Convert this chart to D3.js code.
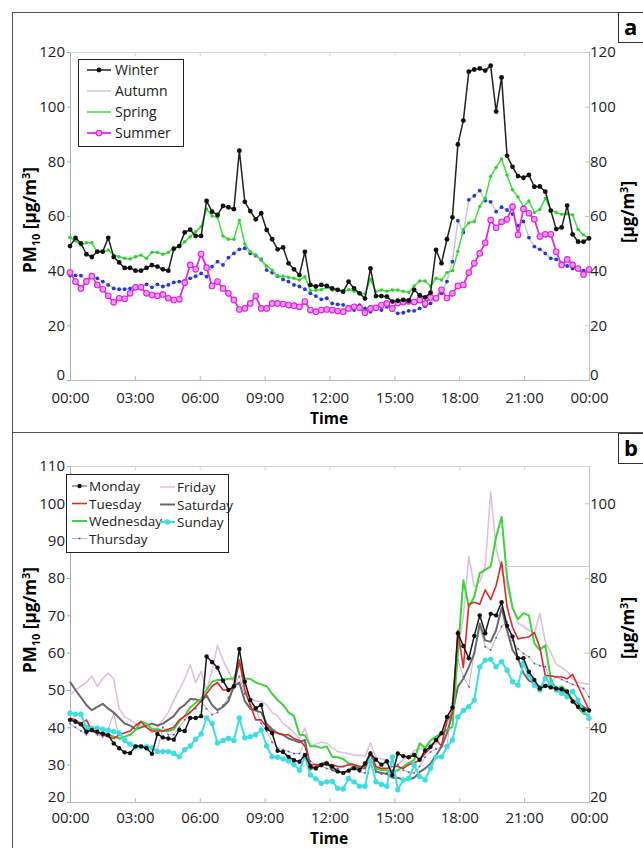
<!DOCTYPE html>
<html>
<head>
<meta charset="utf-8">
<script src="https://cdn.jsdelivr.net/npm/d3@7"></script>
<style>
    body { margin: 0; background: #fff; }
    text { font-family: "Open Sans", sans-serif; }
</style>
</head>
<body>
<div id="visualization"></div>
<script>
// hour ticks + labels (shared by both panels)
const hourTicks = [0, 3, 6, 9, 12, 15, 18, 21, 24]
const hourLabels = ["00:00", "03:00", "06:00", "09:00", "12:00", "15:00", "18:00", "21:00", "00:00"]

// panel a - seasons, 15 min values
const seasons = ["Winter", "Autumn", "Spring", "Summer"]
const winter = [49, 52, 50, 46, 45, 47, 47, 52, 45, 43, 41, 41, 40, 40, 41, 42, 41.5, 40.5, 40, 48, 49, 54, 55, 52.7, 52.7, 65.5, 61.6, 60.4, 63.7, 63.2, 62.5, 83.9, 65.2, 61.8, 58.8, 61, 54.9, 51.5, 47.8, 48.5, 42.7, 40.5, 38.4, 46.9, 34.8, 34.2, 34.8, 34.4, 33.5, 33, 32.3, 36, 33.5, 31.7, 29.8, 40.8, 30.7, 30.7, 30.5, 28.7, 29, 29.3, 29, 33, 31, 30.2, 32, 47.6, 42.7, 51.5, 59.5, 86.2, 94.9, 112.8, 113.6, 114, 113.2, 115, 98.2, 110.7, 82, 78, 74.6, 74, 75, 70.7, 70.8, 68.9, 62, 55.2, 55.8, 63.8, 53.3, 50.6, 50.6, 51.8]
const autumn = [38.2, 38.3, 38.2, 36.6, 37.8, 37.2, 36, 34.8, 33.5, 33.2, 33.2, 33.5, 34.4, 34.4, 35, 33.9, 35, 34.2, 34.8, 35.7, 36, 36.3, 37.2, 38, 39, 37.8, 41.5, 43.3, 42.1, 44.8, 46.3, 47.8, 48.2, 46.3, 45.5, 44.1, 40.2, 39.3, 38, 36.8, 36, 34.8, 34.2, 33.2, 31.7, 30.7, 29.5, 29.9, 28, 27.7, 27.5, 26.8, 25.6, 27.4, 26.2, 25, 26, 25.6, 26.8, 25.6, 24.4, 24.6, 25.3, 25.3, 26.2, 27, 28, 29.5, 31.7, 36, 43.3, 58.3, 54, 65.9, 67.4, 69.3, 65.6, 65.2, 61.6, 63.2, 62.2, 60.7, 56.5, 58, 52.1, 48.8, 47.8, 46.3, 44.5, 44.1, 42.7, 41.7, 40.8, 40.4, 40, 40.8]
const spring = [52.2, 50.9, 49.4, 50.2, 50.2, 46.7, 46.7, 47.6, 45.7, 45.1, 44.5, 44.3, 45.1, 45.7, 44.5, 46.7, 46.7, 46, 46.7, 48.5, 48.8, 50.6, 52.4, 54.3, 56.1, 62.6, 60, 59.5, 52.7, 51.5, 51.5, 58.5, 49.8, 46.9, 45.7, 43.9, 41.7, 40.2, 38, 38, 37.5, 37.2, 36.6, 37.8, 32.7, 32.8, 33, 33.9, 32.9, 33, 32.6, 33, 32.5, 31.7, 31.5, 36.8, 32.3, 32.9, 32.5, 32.9, 32.9, 32.5, 32, 34.4, 36.2, 36.2, 34.4, 37.2, 36.6, 39.3, 40, 47, 55, 57.5, 58, 63.5, 66.5, 74.5, 77.8, 80.9, 75, 69.6, 67, 63.4, 65.5, 61.3, 62.4, 66.4, 62.2, 61.3, 60.6, 60.8, 60.4, 55.1, 53.1, 51.8]
const summer = [39.3, 36, 33.5, 36, 38, 34.8, 33.2, 30.8, 28.4, 29.9, 29.7, 31.7, 33.9, 33.9, 31.7, 31.1, 30.8, 31.3, 29.9, 29.3, 29.5, 35.6, 42.1, 40.5, 46.1, 41.1, 34.4, 36, 33.5, 31.7, 29.3, 25.8, 26.2, 28, 30.7, 26.2, 26.2, 28, 28, 27.8, 27.4, 27.2, 26.8, 28.7, 25.6, 25, 25.6, 25.8, 25.6, 25.2, 25, 26.2, 26.8, 26.4, 24.6, 26.2, 26.4, 27.4, 28, 26.2, 28.2, 28.5, 28.8, 28.5, 29.3, 28, 30.2, 29.9, 33, 30, 31.7, 34.4, 34.8, 39.3, 42.7, 46.3, 50.2, 58.5, 55.7, 57.9, 58.8, 63.4, 53.1, 62.6, 61, 58.8, 52.5, 53.3, 53.3, 46.9, 42.1, 44.1, 42.1, 40.8, 38.6, 40.4]

// panel b - weekdays, 15 min values
const days = ["Monday", "Tuesday", "Wednesday", "Thursday", "Friday", "Saturday", "Sunday"]
const monday = [42, 41.5, 40.8, 38.8, 39.3, 38.8, 38.3, 37.9, 35.7, 34.4, 33.3, 33.1, 34.9, 34.9, 34.4, 32.9, 38.2, 37.3, 37, 36.7, 39.3, 39, 42.5, 42.5, 43, 59, 57.5, 56, 52.5, 50, 51, 61, 52.2, 47.3, 45.1, 46, 39.7, 38.4, 33.7, 33.4, 32.1, 31.2, 30.8, 32.6, 29.5, 29, 29.9, 30.3, 29.5, 28.2, 27.8, 28.4, 29, 28.6, 30.3, 33, 31.3, 30, 30.9, 27.2, 33, 32.3, 32, 32.6, 31.3, 33.8, 34.8, 36.6, 38.4, 42.8, 45.3, 65.2, 61.8, 58.5, 64.5, 70, 65.2, 70.4, 70, 73.5, 67.2, 64.3, 58.5, 58.5, 54.9, 52.7, 50.4, 51.1, 50.7, 50.4, 50.2, 49.6, 46.9, 45.5, 44.7, 44.5]
const tuesday = [42.5, 42, 41, 42, 39, 38.5, 38, 37.5, 37, 38, 38.5, 39, 40.5, 41.5, 40, 39, 39, 39, 39.5, 40, 42, 43, 44, 45.5, 47, 49, 51, 52, 50, 50, 50.5, 58, 50, 46, 42, 42, 40, 39, 38.5, 38, 38, 37, 36.5, 35, 30, 30, 30, 30, 30, 29.5, 29.5, 30, 30, 29.5, 29.5, 33, 29.5, 29, 29, 29.5, 29.5, 29, 30, 30.5, 31.2, 33, 34.5, 36.7, 35, 41.8, 43.7, 66, 56, 73, 73.5, 73, 76.8, 74.2, 78, 84.3, 72.3, 66.8, 63.7, 64, 64.2, 65.4, 61.4, 53.8, 53.8, 53.5, 53.5, 53, 54.2, 51, 47.8, 44.7]
const wednesday = [42.4, 41.5, 41, 40, 39, 38.5, 38.5, 38, 37.5, 37, 37.5, 38, 39.3, 41.6, 41, 39.5, 39.5, 39, 39, 39.5, 41.6, 43, 45.3, 46.5, 47.6, 50, 52.2, 52.7, 52.7, 53, 53.1, 57.1, 53, 53, 52, 51.5, 51, 49, 47.3, 46, 44, 43, 38, 37.9, 34.9, 34.9, 34.5, 34.9, 32.1, 32, 31.5, 30.3, 30, 29.4, 29.5, 33.4, 29, 28.5, 28.5, 28, 28.5, 29.5, 30.5, 31.2, 35.7, 34.5, 36.5, 37.5, 38.4, 39.3, 40.1, 60, 79.4, 72.3, 75, 81.3, 82.2, 83.1, 91, 96.4, 80, 72, 69, 70.6, 70, 62.5, 60.7, 62, 53.1, 50, 51, 49.6, 47.3, 45.1, 43.7, 43.3]
const thursday = [41, 40, 39, 38, 40, 38, 37.5, 39.5, 43.8, 37, 36, 35.5, 35, 35, 35, 34.5, 34, 40, 38, 38, 40, 42, 44, 45, 47, 45, 43.4, 44, 45.9, 48, 51, 53.6, 49, 46, 45, 41, 39, 36, 34.5, 34, 33.5, 33, 33, 36, 31, 30, 29.5, 29, 28.6, 29, 29.5, 30.3, 29, 28, 27.8, 32.6, 28, 27.5, 27.8, 28.5, 30, 28.5, 28, 27.8, 29.5, 32, 33.4, 34.2, 34.8, 35, 46.4, 58, 53.6, 50.9, 60, 67, 61.6, 60.7, 64, 67, 68.3, 63.3, 61, 59.8, 58.9, 57.1, 56.5, 56.2, 52.2, 53.5, 52.8, 52.2, 51.5, 51, 50.4, 48.2]
const friday = [48.6, 50, 51, 52, 53.7, 51, 53, 54.5, 53, 45, 42.8, 42, 41, 40.5, 40, 38.5, 40, 42, 44, 47.3, 50, 53, 56.7, 52, 55, 50, 55, 62, 58, 55, 52, 58, 50, 48, 47, 47, 46, 44, 43, 41, 40, 38.5, 37, 39.8, 35, 35.5, 36, 35.8, 34.5, 33.5, 33.2, 33, 32.5, 32.5, 32.3, 35.8, 32, 31.5, 31, 30.5, 30, 31.5, 32, 33.8, 34.2, 34.5, 35.7, 35.5, 38.4, 40.6, 45, 60, 70, 85.9, 77.6, 79, 83, 103, 88, 82, 78, 72, 68, 67, 66, 65, 70.5, 63, 60, 57, 56, 55, 53, 52, 51.8, 51.5]
const saturday = [52.2, 50, 48, 46, 44.6, 45.5, 46.3, 45, 44, 42.5, 41, 40.5, 39.5, 40, 40.5, 41, 40.5, 41, 42, 43, 45, 46, 47.6, 47.5, 47, 48.5, 46, 44.6, 45.5, 47, 51, 52, 47, 45, 44.5, 44, 41, 39.5, 38.4, 38, 37, 36.5, 36, 36.6, 28.7, 29.5, 30.2, 30.8, 28.5, 28.2, 27.8, 28.5, 29.6, 29.2, 29, 33.4, 28.2, 27.8, 27.5, 26.5, 26.5, 26, 26, 26.5, 28, 29, 30.3, 32.5, 34.8, 38.4, 43.7, 50.9, 53, 56.2, 59.8, 67.8, 63.3, 62.9, 66, 72, 66, 60.7, 58.5, 54.5, 52.5, 51.8, 50.9, 51.3, 51, 50.4, 50, 49.1, 47.3, 46.5, 45.5, 44.6]
const sunday = [43.8, 43.5, 43.5, 40, 39.8, 39.8, 39.5, 39.2, 38.8, 38.5, 36.6, 35.5, 34.8, 34.8, 34.8, 34.5, 33.5, 33.5, 33.5, 33, 32.1, 34, 35, 36.8, 38.2, 42.5, 41, 35.8, 36.5, 37, 36.5, 42.5, 37.2, 37.5, 38, 39.3, 35, 32.1, 32, 31.5, 31, 30, 28.5, 32.1, 27.2, 26.2, 25, 25.4, 25.5, 23.7, 23.5, 26.3, 25.4, 24.2, 24.2, 31, 25.4, 24.7, 24.2, 32.1, 23.3, 25.9, 26.3, 29.9, 26.8, 25.9, 29.1, 32.1, 32.1, 34.8, 36.6, 42.8, 44.5, 45.5, 47.3, 56.2, 58, 58.2, 56.2, 57.6, 55.3, 52.2, 51.3, 57.1, 54, 51.3, 50, 53.1, 51.7, 50, 49.1, 48.2, 49.6, 47.3, 44.6, 42.4]

const width = 643
const height = 848

const svg = d3.select('#visualization')
    .append('svg')
    .attr('width', width)
    .attr('height', height)

svg.append('rect').attr('width', width).attr('height', height).attr('fill', '#fff')

// outer panel boxes
svg.append('rect').attr('x', 12.5).attr('y', 12.5).attr('width', 640).attr('height', 420)
    .attr('fill', 'none').attr('stroke', '#555').attr('stroke-width', 1)
svg.append('rect').attr('x', 12.5).attr('y', 432.5).attr('width', 640).attr('height', 420)
    .attr('fill', 'none').attr('stroke', '#555').attr('stroke-width', 1)

const tickFont = 15

function drawPanel(cfg) {
    const x = d3.scaleLinear().domain([0, 24]).range([70, 589])
    const y = d3.scaleLinear().domain(cfg.yDomain).range([cfg.bottom, cfg.top])
    const g = svg.append('g')
    // lowest y label sits a little above the x axis line, as in the original
    const liftLowest = a => a.selectAll('.tick text').filter(d => d === cfg.yDomain[0]).attr('y', -5)

    // top frame with ticks
    g.append('g')
        .attr('transform', `translate(0,${cfg.top})`)
        .call(d3.axisTop(x).tickValues(hourTicks).tickFormat('').tickSizeInner(-4).tickSizeOuter(0))
        .call(a => a.selectAll('line,path').attr('stroke', '#d4d4d4'))

    // bottom axis
    g.append('g')
        .attr('transform', `translate(0,${cfg.bottom})`)
        .call(d3.axisBottom(x).tickValues(hourTicks).tickFormat((d, i) => hourLabels[i])
            .tickSizeInner(-4).tickSizeOuter(0).tickPadding(cfg.tickPad))
        .call(a => a.selectAll('line,path').attr('stroke', '#bbb'))
        .call(a => a.selectAll('text').attr('font-size', tickFont).attr('fill', '#222')
            .attr('font-family', '"Open Sans", sans-serif'))

    // left axis
    g.append('g')
        .attr('transform', 'translate(70,0)')
        .call(d3.axisLeft(y).tickValues(cfg.leftTicks).tickSizeInner(3).tickSizeOuter(0).tickPadding(2))
        .call(a => a.selectAll('line,path').attr('stroke', '#aaa'))
        .call(a => a.selectAll('text').attr('font-size', tickFont).attr('fill', '#222')
            .attr('font-family', '"Open Sans", sans-serif'))
        .call(liftLowest)

    // right axis
    g.append('g')
        .attr('transform', 'translate(589,0)')
        .call(d3.axisRight(y).tickValues(cfg.rightTicks).tickSizeInner(-4).tickSizeOuter(0).tickPadding(1))
        .call(a => a.selectAll('line,path').attr('stroke', '#c4c4c4'))
        .call(a => a.selectAll('text').attr('font-size', tickFont).attr('fill', '#222')
            .attr('font-family', '"Open Sans", sans-serif'))
        .call(liftLowest)

    // series - points spread evenly over the day
    const line = d3.line().x(d => x(d[0])).y(d => y(d[1]))
    cfg.series.forEach(s => {
        const pts = s.values.map((v, i) => [i * 24 / (s.values.length - 1), v])
        g.append('path')
            .datum(pts)
            .attr('d', line)
            .attr('fill', 'none')
            .attr('stroke', s.color)
            .attr('stroke-width', s.width)
            .attr('stroke-linejoin', 'round')
        if (s.marker) {
            g.selectAll(null)
                .data(pts)
                .join('circle')
                .attr('cx', d => x(d[0]))
                .attr('cy', d => y(d[1]))
                .attr('r', s.marker.r)
                .attr('fill', s.marker.fill)
                .attr('stroke', s.marker.stroke || 'none')
                .attr('stroke-width', s.marker.sw || 0)
        }
    })

    // axis titles
    g.append('text')
        .attr('x', 329).attr('y', cfg.timeY)
        .attr('text-anchor', 'middle')
        .attr('font-weight', 'bold').attr('font-size', 15.5)
        .text('Time')

    const yt = g.append('text')
        .attr('transform', `translate(36,${cfg.titleY}) rotate(-90)`)
        .attr('text-anchor', 'middle')
        .attr('font-weight', 'bold').attr('font-size', 17)
    yt.append('tspan').text('PM')
    yt.append('tspan').attr('font-size', 11).attr('dy', 4).text('10')
    yt.append('tspan').attr('dy', -4).text(' [µg/m')
    yt.append('tspan').attr('font-size', 11).attr('dy', -6).text('3')
    yt.append('tspan').attr('dy', 6).text(']')

    const yr = g.append('text')
        .attr('transform', `translate(634,${cfg.rightTitleY}) rotate(-90)`)
        .attr('text-anchor', 'middle')
        .attr('font-weight', 'bold').attr('font-size', 17)
    yr.append('tspan').text('[µg/m')
    yr.append('tspan').attr('font-size', 11).attr('dy', -6).text('3')
    yr.append('tspan').attr('dy', 6).text(']')

    // panel letter
    g.append('rect').attr('x', 618.5).attr('y', cfg.boxY + 0.5).attr('width', 30).attr('height', 30)
        .attr('fill', '#fff').attr('stroke', '#333')
    g.append('text').attr('x', 624).attr('y', cfg.boxY + 23)
        .attr('font-weight', 'bold').attr('font-size', 22).text(cfg.letter)

    return { x, y, g }
}

// ---------- panel a ----------
const colA = {
    Winter: { color: '#222', width: 1.5, marker: { r: 2.4, fill: '#111' } },
    Autumn: { color: '#c9c9d6', width: 1.5, marker: { r: 1.9, fill: '#2438d8' } },
    Spring: { color: '#3ee03e', width: 1.5, marker: { r: 1.7, fill: '#2fcf2f' } },
    Summer: { color: '#e02ce0', width: 1.8, marker: { r: 2.8, fill: '#f39af3', stroke: '#dd22dd', sw: 1.1 } }
}
const valsA = { Winter: winter, Autumn: autumn, Spring: spring, Summer: summer }
const drawOrderA = ["Autumn", "Spring", "Summer", "Winter"]

drawPanel({
    yDomain: [0, 120], top: 52, bottom: 380,
    leftTicks: [0, 20, 40, 60, 80, 100, 120],
    rightTicks: [0, 20, 40, 60, 80, 100, 120],
    titleY: 220, rightTitleY: 212, boxY: 12, letter: 'a', timeY: 424, tickPad: 12,
    series: drawOrderA.map(k => Object.assign({ values: valsA[k] }, colA[k]))
})

// legend a (only winter + summer show a marker in the key)
const legA = svg.append('g')
legA.append('rect').attr('x', 78.5).attr('y', 59.5).attr('width', 105).attr('height', 87)
    .attr('fill', '#fff').attr('stroke', '#222')
seasons.forEach((s, i) => {
    const yy = 70 + i * 21
    const c = colA[s]
    legA.append('line').attr('x1', 87).attr('x2', 111).attr('y1', yy).attr('y2', yy)
        .attr('stroke', c.color).attr('stroke-width', c.width)
    if (s === 'Winter' || s === 'Summer') {
        legA.append('circle').attr('cx', 99).attr('cy', yy).attr('r', c.marker.r)
            .attr('fill', c.marker.fill).attr('stroke', c.marker.stroke || 'none').attr('stroke-width', c.marker.sw || 0)
    }
    legA.append('text').attr('x', 115).attr('y', yy + 5).attr('font-size', 14).attr('fill', '#222').text(s)
})

// ---------- panel b ----------
const colB = {
    Monday: { color: '#1a1a1a', width: 1.5, marker: { r: 2.2, fill: '#111' } },
    Tuesday: { color: '#e02a2a', width: 1.6 },
    Wednesday: { color: '#3dd33d', width: 2 },
    Thursday: { color: '#b9b2cc', width: 1, marker: { r: 1, fill: '#5a5ac8' } },
    Friday: { color: '#dcc2de', width: 1.6 },
    Saturday: { color: '#6a6a6a', width: 2 },
    Sunday: { color: '#3ddde3', width: 2, marker: { r: 2.7, fill: '#3ddde3' } }
}
const valsB = { Monday: monday, Tuesday: tuesday, Wednesday: wednesday, Thursday: thursday, Friday: friday, Saturday: saturday, Sunday: sunday }
const drawOrderB = ["Friday", "Thursday", "Saturday", "Wednesday", "Tuesday", "Sunday", "Monday"]

drawPanel({
    yDomain: [20, 110], top: 466, bottom: 802,
    leftTicks: [20, 30, 40, 50, 60, 70, 80, 90, 100, 110],
    rightTicks: [20, 40, 60, 80, 100],
    titleY: 620, rightTitleY: 628, boxY: 433, letter: 'b', timeY: 843.5, tickPad: 10,
    series: drawOrderB.map(k => Object.assign({ values: valsB[k] }, colB[k]))
})

// faint box edge at upper right of panel b
svg.append('line').attr('x1', 503).attr('x2', 589).attr('y1', 566.5).attr('y2', 566.5)
    .attr('stroke', '#d0d0d0').attr('stroke-width', 1)

// legend b
const legB = svg.append('g')
legB.append('rect').attr('x', 66.5).attr('y', 474.5).attr('width', 162).attr('height', 78)
    .attr('fill', '#fff').attr('stroke', '#222')
days.forEach((d, i) => {
    const col = i < 4 ? 0 : 1
    const row = i < 4 ? i : i - 4
    const x0 = col === 0 ? 72 : 160
    const yy = 486 + row * 17.5 + col * 1
    const c = colB[d]
    legB.append('line').attr('x1', x0).attr('x2', x0 + 15).attr('y1', yy).attr('y2', yy)
        .attr('stroke', d === 'Monday' ? '#888' : c.color).attr('stroke-width', c.width)
    if (c.marker) {
        legB.append('circle').attr('cx', x0 + 7.5).attr('cy', yy).attr('r', c.marker.r)
            .attr('fill', c.marker.fill)
    }
    legB.append('text').attr('x', x0 + 17).attr('y', yy + 5).attr('font-size', 13.5).attr('fill', '#222').text(d)
})
</script>
</body>
</html>
